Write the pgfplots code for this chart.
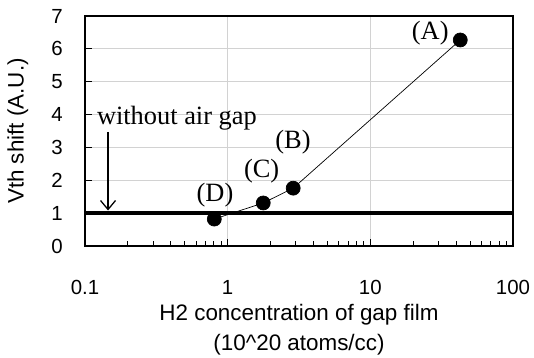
\documentclass[border=0pt]{standalone}
\usepackage{fontspec}
\setmainfont{Liberation Sans}
\newfontfamily\seriffont{Liberation Serif}
\usepackage{pgfplots}
\pgfplotsset{compat=1.18}
\usetikzlibrary{arrows.meta}
\begin{document}
\begin{tikzpicture}
\begin{axis}[
  at={(0,0)}, anchor=south west,
  scale only axis, width=428bp, height=230bp,
  xmode=log, xmin=0.1, xmax=100, ymin=0, ymax=7,
  xtick={0.1,1,10,100}, xticklabels={0.1,1,10,100},
  minor xtick={0.2,0.3,0.4,0.5,0.6,0.7,0.8,0.9,2,3,4,5,6,7,8,9,20,30,40,50,60,70,80,90},
  ytick={0,1,2,3,4,5,6,7},
  /pgf/number format/assume math mode=true,
  xtick pos=bottom, ytick pos=left, tick align=inside,
  major tick length=7bp, minor tick length=5bp,
  tick style={black, line width=1bp},
  grid=major, major grid style={gray!35, line width=0.8bp},
  axis line style={line width=1.2bp},
  ticklabel style={font=\fontsize{20.5}{22}\selectfont},
  xticklabel style={anchor=center, yshift=-41bp},
  yticklabel style={anchor=east, inner sep=0pt, xshift=-22bp},
  xlabel={H2 concentration of gap film\\(10\textasciicircum 20 atoms/cc)},
  xlabel style={at={(axis description cs:0.5,-0.365)}, anchor=center, align=center, font=\fontsize{22.5}{30}\selectfont},
  ylabel={Vth shift (A.U.)},
  ylabel style={at={(axis description cs:-0.157,0.5)}, anchor=center, font=\fontsize{22.5}{26}\selectfont},
  clip=false,
]
\addplot[black, line width=4bp] coordinates {(0.1,1) (100,1)};
\addplot[black, line width=0.7bp, mark=*, mark size=7bp, mark options={fill=black}]
  coordinates {(0.806,0.82) (1.776,1.31) (2.88,1.76) (42.7,6.27)};
\draw[-{Straight Barb[length=9bp,width=15bp]}, line width=1.3bp] (axis cs:0.145,3.47) -- (axis cs:0.145,1.08);
\node[anchor=west, inner sep=0pt, font=\seriffont\fontsize{26.5}{28}\selectfont] at (axis cs:0.121,3.90) {without air gap};
\node[inner sep=0pt, font=\seriffont\fontsize{26.5}{28}\selectfont] at (axis cs:26.3,6.47) {(A)};
\node[inner sep=0pt, font=\seriffont\fontsize{26.5}{28}\selectfont] at (axis cs:2.87,3.17) {(B)};
\node[inner sep=0pt, font=\seriffont\fontsize{26.5}{28}\selectfont] at (axis cs:1.73,2.27) {(C)};
\node[inner sep=0pt, font=\seriffont\fontsize{26.5}{28}\selectfont] at (axis cs:0.815,1.56) {(D)};
\end{axis}
\pgfresetboundingbox
\path[use as bounding box] (-85bp,-112bp) rectangle (449bp,246bp);
\end{tikzpicture}
\end{document}
